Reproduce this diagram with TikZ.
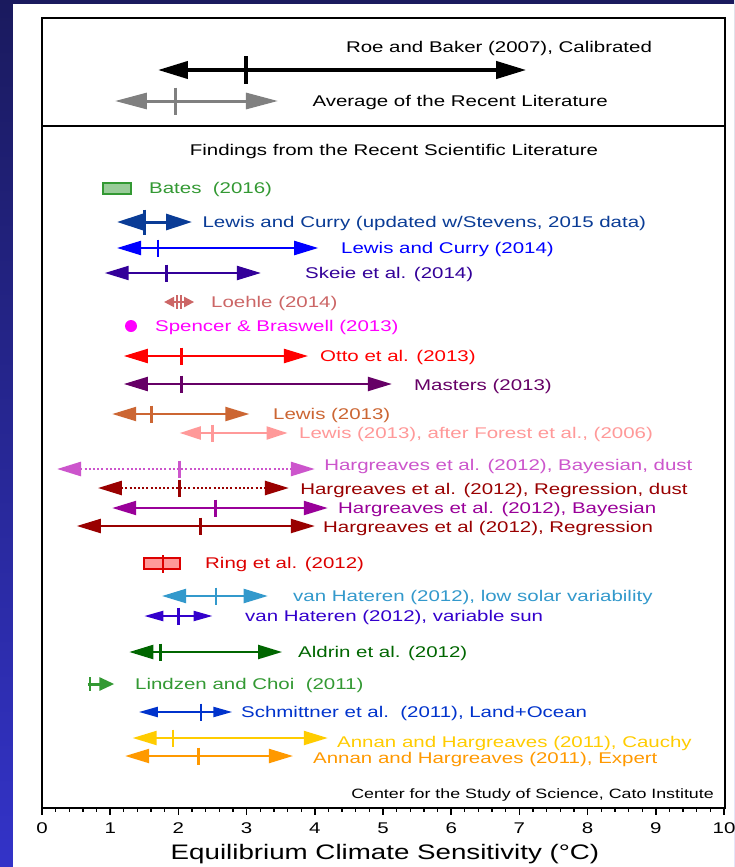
\documentclass[tikz,border=0pt]{standalone}
\usepackage{fontspec}
\newfontfamily\ecsfont[FakeStretch=1.32]{Liberation Sans}
\usetikzlibrary{
	arrows.meta,
	positioning
}
\definecolor{bgTop}{HTML}{1A1A5E}
\definecolor{bgBottom}{HTML}{3333C8}
\definecolor{avgGray}{HTML}{808080}
\definecolor{batesGreen}{HTML}{339933}
\definecolor{batesFill}{HTML}{99CC99}
\definecolor{lcUpd}{HTML}{0A3C96}
\definecolor{lcBlue}{HTML}{0000FF}
\definecolor{skeie}{HTML}{330099}
\definecolor{loehle}{HTML}{CC6666}
\definecolor{spencer}{HTML}{FF00FF}
\definecolor{otto}{HTML}{FF0000}
\definecolor{masters}{HTML}{660066}
\definecolor{lewisA}{HTML}{CC6633}
\definecolor{lewisF}{HTML}{FF9999}
\definecolor{hargBD}{HTML}{CC55CC}
\definecolor{hargRD}{HTML}{990000}
\definecolor{hargB}{HTML}{990099}
\definecolor{hargR}{HTML}{990000}
\definecolor{ringRed}{HTML}{DD0000}
\definecolor{ringFill}{HTML}{FF9999}
\definecolor{vhLow}{HTML}{3399CC}
\definecolor{vhVar}{HTML}{3300CC}
\definecolor{aldrin}{HTML}{006600}
\definecolor{lindzen}{HTML}{339933}
\definecolor{schmittner}{HTML}{0033CC}
\definecolor{annanC}{HTML}{FFCC00}
\definecolor{annanE}{HTML}{FF9900}
\tikzset{
	ecs tick/.initial=8.5pt,
	ecs tick width/.initial=2.8pt,
	ecs label/.style={},
	ECS-Arrow/.style={<->,line width=2.2pt},
	ECS-Tick/.style={-,solid,line width=\pgfkeysvalueof{/tikz/ecs tick width}},
	ECS-Label/.style={anchor=base west,inner sep=0pt,font=\ecsfont\fontsize{15.5pt}{18pt}\selectfont},
	Small-Head/.style={>={Triangle[length=19pt,width=10pt]}},
	Axis-Line/.style={line width=1.6pt}
}
% one range: [opts]{name}{colour}{y}{low}{best}{high}{label pos}{label}
\newcommand{\ecsrow}[9][]{%
	\begin{scope}[>={Triangle[length=24pt,width=14pt]},#1]
		\coordinate (#2-lo) at ({42+68.2*#5},#4);
		\coordinate (#2-mid) at ({42+68.2*#6},#4);
		\coordinate (#2-hi) at ({42+68.2*#7},#4);
		\draw [ECS-Arrow,#3,#1] (#2-lo) -- (#2-hi);
		\draw [#3,ECS-Tick] ([yshift=\pgfkeysvalueof{/tikz/ecs tick}]#2-mid) -- ([yshift=-\pgfkeysvalueof{/tikz/ecs tick}]#2-mid);
		\node [ECS-Label,text=#3,ecs label] (#2) at (#8) {#9};
	\end{scope}}

\begin{document}
\begin{tikzpicture}[x=1pt,y=-1pt]
	\useasboundingbox (0,0) rectangle (734,867);
	\shade [top color=bgTop,bottom color=bgBottom] (0,0) rectangle (734,867);
	\fill [white] (13,4) rectangle (734,867);
	\draw [Axis-Line] (42,18) rectangle (725,808);
	\draw [Axis-Line] (42,126) -- (725,126);
	% top panel
	\ecsrow[line width=4pt,>={Triangle[length=30pt,width=17pt]},ecs tick=13.5pt,ecs tick width=4pt]{roe}{black}{70}{1.7}{2.99}{7.1}{344,52.5}{Roe and Baker (2007), Calibrated}
	\ecsrow[line width=3pt,>={Triangle[length=32pt,width=16pt]},ecs tick=13.5pt,ecs tick width=3pt,ecs label/.style={text=black}]{avg}{avgGray}{101}{1.07}{1.96}{3.46}{311,106.5}{Average of the Recent Literature}
	\node [ECS-Label,anchor=base] (findings) at (394,155.5) {Findings from the Recent Scientific Literature};
	% findings
	\node [draw=batesGreen,fill=batesFill,line width=1.5pt,minimum width=28pt,minimum height=11pt,inner sep=0pt] (bates-box) at (117,188.5) {};
	\node [ECS-Label,text=batesGreen] (bates) at (149,193.5) {Bates\ \ (2016)};
	\ecsrow[line width=3pt,>={Triangle[length=26pt,width=16pt]},ecs tick=12.5pt,ecs tick width=3.5pt]{lcupd}{lcUpd}{222}{1.1}{1.5}{2.2}{201,227.5}{Lewis and Curry (updated w/Stevens, 2015 data)}
	\ecsrow{lcA}{lcBlue}{248}{1.1}{1.7}{4.05}{341,253.5}{Lewis and Curry (2014)}
	\ecsrow{skeie}{skeie}{273}{0.92}{1.82}{3.21}{305,278.5}{Skeie et al. (2014)}
	\coordinate (loehle-lo) at ({42+68.2*1.79},302);
	\coordinate (loehle-hi) at ({42+68.2*2.23},302);
	\draw [<->,>={Triangle[length=10pt,width=10pt]},line width=2pt,loehle] (loehle-lo) -- (loehle-hi);
	\draw [loehle,line width=2pt] (177,295) -- (177,309) (180.5,295) -- (180.5,309);
	\node [ECS-Label,text=loehle] (loehle) at (211,307.5) {Loehle (2014)};
	\node [circle,fill=spencer,minimum size=12pt,inner sep=0pt] (spencer-dot) at (131,326) {};
	\node [ECS-Label,text=spencer] (spencer) at (155,331.5) {Spencer \& Braswell (2013)};
	\ecsrow{otto}{otto}{356}{1.2}{2.05}{3.9}{320,361.5}{Otto et al. (2013)}
	\ecsrow{masters}{masters}{384}{1.2}{2.05}{5.13}{414,390.5}{Masters (2013)}
	\ecsrow{lewisA}{lewisA}{414}{1.03}{1.6}{3.04}{273,419.5}{Lewis (2013)}
	\ecsrow[>={Triangle[length=21pt,width=13pt]}]{lewisF}{lewisF}{433}{2.02}{2.5}{3.6}{299,438.5}{Lewis (2013), after Forest et al., (2006)}
	\ecsrow[line width=2.6pt,dash pattern=on 2pt off 2.2pt]{hargBD}{hargBD}{469}{0.22}{2.02}{4.0}{323,470.5}{Hargreaves et al. (2012), Bayesian, dust}
	\ecsrow[line width=2.6pt,dash pattern=on 2pt off 2.2pt]{hargRD}{hargRD}{488}{0.82}{2.02}{3.62}{299,494.5}{Hargreaves et al. (2012), Regression, dust}
	\ecsrow{hargB}{hargB}{508}{1.03}{2.54}{4.19}{338,513.5}{Hargreaves et al. (2012), Bayesian}
	\ecsrow{hargR}{hargR}{526}{0.51}{2.32}{4.0}{323,532.5}{Hargreaves et al (2012), Regression}
	\node [draw=ringRed,fill=ringFill,line width=1.5pt,minimum width=36pt,minimum height=11pt,inner sep=0pt] (ring-box) at (162,563.5) {};
	\draw [ringRed,line width=2.8pt] (163,555) -- (163,573);
	\node [ECS-Label,text=ringRed] (ring) at (205,568.5) {Ring et al. (2012)};
	\ecsrow{vhlow}{vhLow}{596}{1.76}{2.55}{3.31}{293,601.5}{van Hateren (2012), low solar variability}
	\ecsrow[Small-Head]{vhvar}{vhVar}{616}{1.5}{2.0}{2.5}{245,621.5}{van Hateren (2012), variable sun}
	\ecsrow{aldrin}{aldrin}{652}{1.28}{1.74}{3.52}{298,657.5}{Aldrin et al. (2012)}
	\coordinate (lindzen-lo) at ({42+68.2*0.67},684);
	\coordinate (lindzen-hi) at ({42+68.2*1.06},684);
	\draw [-{Triangle[length=15pt,width=13pt]},line width=3pt,lindzen] (lindzen-lo) -- (lindzen-hi);
	\draw [lindzen,line width=2.5pt] (90,677) -- (90,691);
	\node [ECS-Label,text=lindzen] (lindzen) at (135,689.5) {Lindzen and Choi\ \ (2011)};
	\ecsrow[Small-Head]{schmittner}{schmittner}{712}{1.42}{2.33}{2.79}{241,717.5}{Schmittner et al.\ \ (2011), Land+Ocean}
	\ecsrow{annanC}{annanC}{738}{1.33}{1.92}{4.19}{337,747.5}{Annan and Hargreaves (2011), Cauchy}
	\ecsrow{annanE}{annanE}{756}{1.22}{2.30}{3.68}{313,763.5}{Annan and Hargreaves (2011), Expert}
	\node [anchor=base east,inner sep=0pt,font=\ecsfont\fontsize{13.5pt}{16pt}\selectfont] (cato) at (714,798) {Center for the Study of Science, Cato Institute};
	% axis
	\foreach \k in {0,...,50}
		\draw [line width=1.3pt] ({42+68.2*\k/5},808) -- ({42+68.2*\k/5},812);
	\foreach \k in {0,...,10} {
		\draw [line width=1.6pt] ({42+68.2*\k},808) -- ({42+68.2*\k},815);
		\node [ECS-Label,anchor=base] (tl-\k) at ({42+68.2*\k},833.5) {\k};
	}
	\node [inner sep=0pt,anchor=base,font=\ecsfont\fontsize{21pt}{24pt}\selectfont] (xlabel) at (385,859) {Equilibrium Climate Sensitivity (°C)};
\end{tikzpicture}
\end{document}
